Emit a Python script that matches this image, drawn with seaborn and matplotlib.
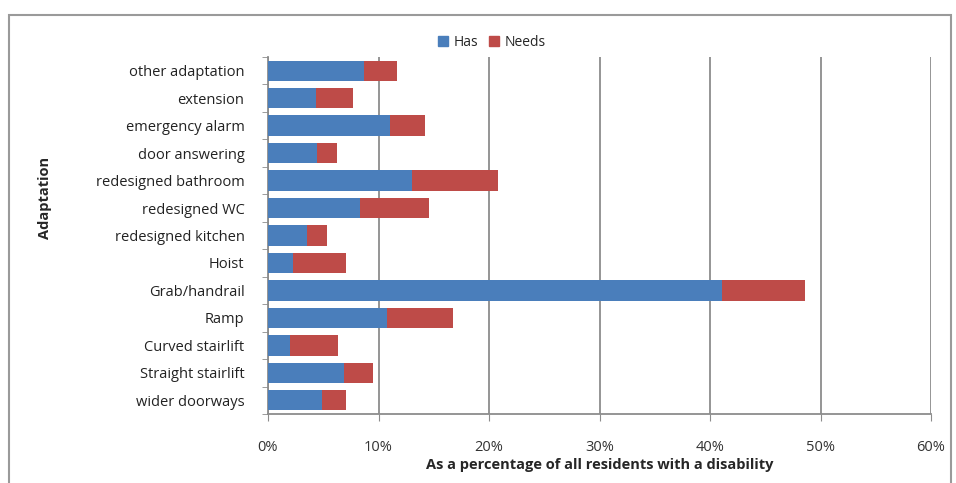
import matplotlib
matplotlib.use("Agg")
import matplotlib.pyplot as plt
import matplotlib.patches as mpatches
import matplotlib.ticker as mticker
import seaborn as sns
import pandas as pd

# data (percent of residents with a disability)
adaptations = ["other adaptation", "extension", "emergency alarm", "door answering",
               "redesigned bathroom", "redesigned WC", "redesigned kitchen", "Hoist",
               "Grab/handrail", "Ramp", "Curved stairlift", "Straight stairlift",
               "wider doorways"]
has = [8.7, 4.3, 11.0, 4.4, 13.0, 8.3, 3.5, 2.3, 41.1, 10.8, 2.0, 6.9, 4.9]
needs = [3.0, 3.4, 3.2, 1.8, 7.8, 6.3, 1.8, 4.8, 7.5, 5.9, 4.3, 2.6, 2.2]

blue = "#4A7EBB"
red = "#BE4B48"

df = pd.DataFrame({"Adaptation": adaptations, "Has": has, "Needs": needs})
df["Total"] = df["Has"] + df["Needs"]

sns.set_style("white")
plt.rcParams["font.family"] = ["Open Sans", "DejaVu Sans"]

fig = plt.figure(figsize=(9.56, 4.83), dpi=100)
ax = fig.add_axes([268 / 956, 1 - 414 / 483, (931 - 268) / 956, (414 - 57) / 483])

sns.barplot(data=df, y="Adaptation", x="Total", color=red, orient="h",
            width=0.74, saturation=1, linewidth=0, ax=ax, zorder=3)
sns.barplot(data=df, y="Adaptation", x="Has", color=blue, orient="h",
            width=0.74, saturation=1, linewidth=0, ax=ax, zorder=4)

ax.set_xlim(0, 60)
ax.xaxis.set_major_locator(mticker.MultipleLocator(10))
ax.xaxis.set_major_formatter(mticker.PercentFormatter(decimals=0))
ax.grid(axis="x", color="#8c8c8c", linewidth=1.3, zorder=0)
ax.set_axisbelow(True)

for s in ["top", "right"]:
    ax.spines[s].set_visible(False)
ax.spines["left"].set_color("#8c8c8c")
ax.spines["bottom"].set_color("#8c8c8c")
ax.spines["left"].set_linewidth(1.3)
ax.spines["bottom"].set_linewidth(1.3)

# small marks between the categories on the left spine
ax.set_yticks([i - 0.5 for i in range(len(adaptations) + 1)], minor=True)
ax.tick_params(axis="y", which="minor", length=4, color="#8c8c8c", left=True)
ax.tick_params(axis="y", which="major", length=0, labelsize=10.5, pad=17,
               labelcolor="#222222")
ax.tick_params(axis="x", length=5, color="#8c8c8c", labelsize=10.5, pad=14,
               labelcolor="#333333", bottom=True)

ax.set_xlabel("As a percentage of all residents with a disability", fontsize=10.5,
              fontweight="bold", labelpad=2)
ax.set_ylabel("")
fig.text(45 / 956, 1 - 198 / 483, "Adaptation", rotation=90, fontsize=10.5,
         fontweight="bold", ha="center", va="center")

handles = [mpatches.Patch(color=blue, label="Has"),
           mpatches.Patch(color=red, label="Needs")]
fig.legend(handles=handles, loc="center", bbox_to_anchor=(492 / 956, 1 - 42 / 483),
           ncol=2, frameon=False, fontsize=10, handlelength=0.7, handleheight=0.7,
           columnspacing=0.8, handletextpad=0.4)

# outer chart frame
fig.patches.append(mpatches.Rectangle((9 / 956, -0.05), 942 / 956, 1 - 15 / 483 + 0.05,
                                      transform=fig.transFigure, fill=False,
                                      edgecolor="#9a9a9a", linewidth=1.5))

fig.savefig("out.png", dpi=100)
